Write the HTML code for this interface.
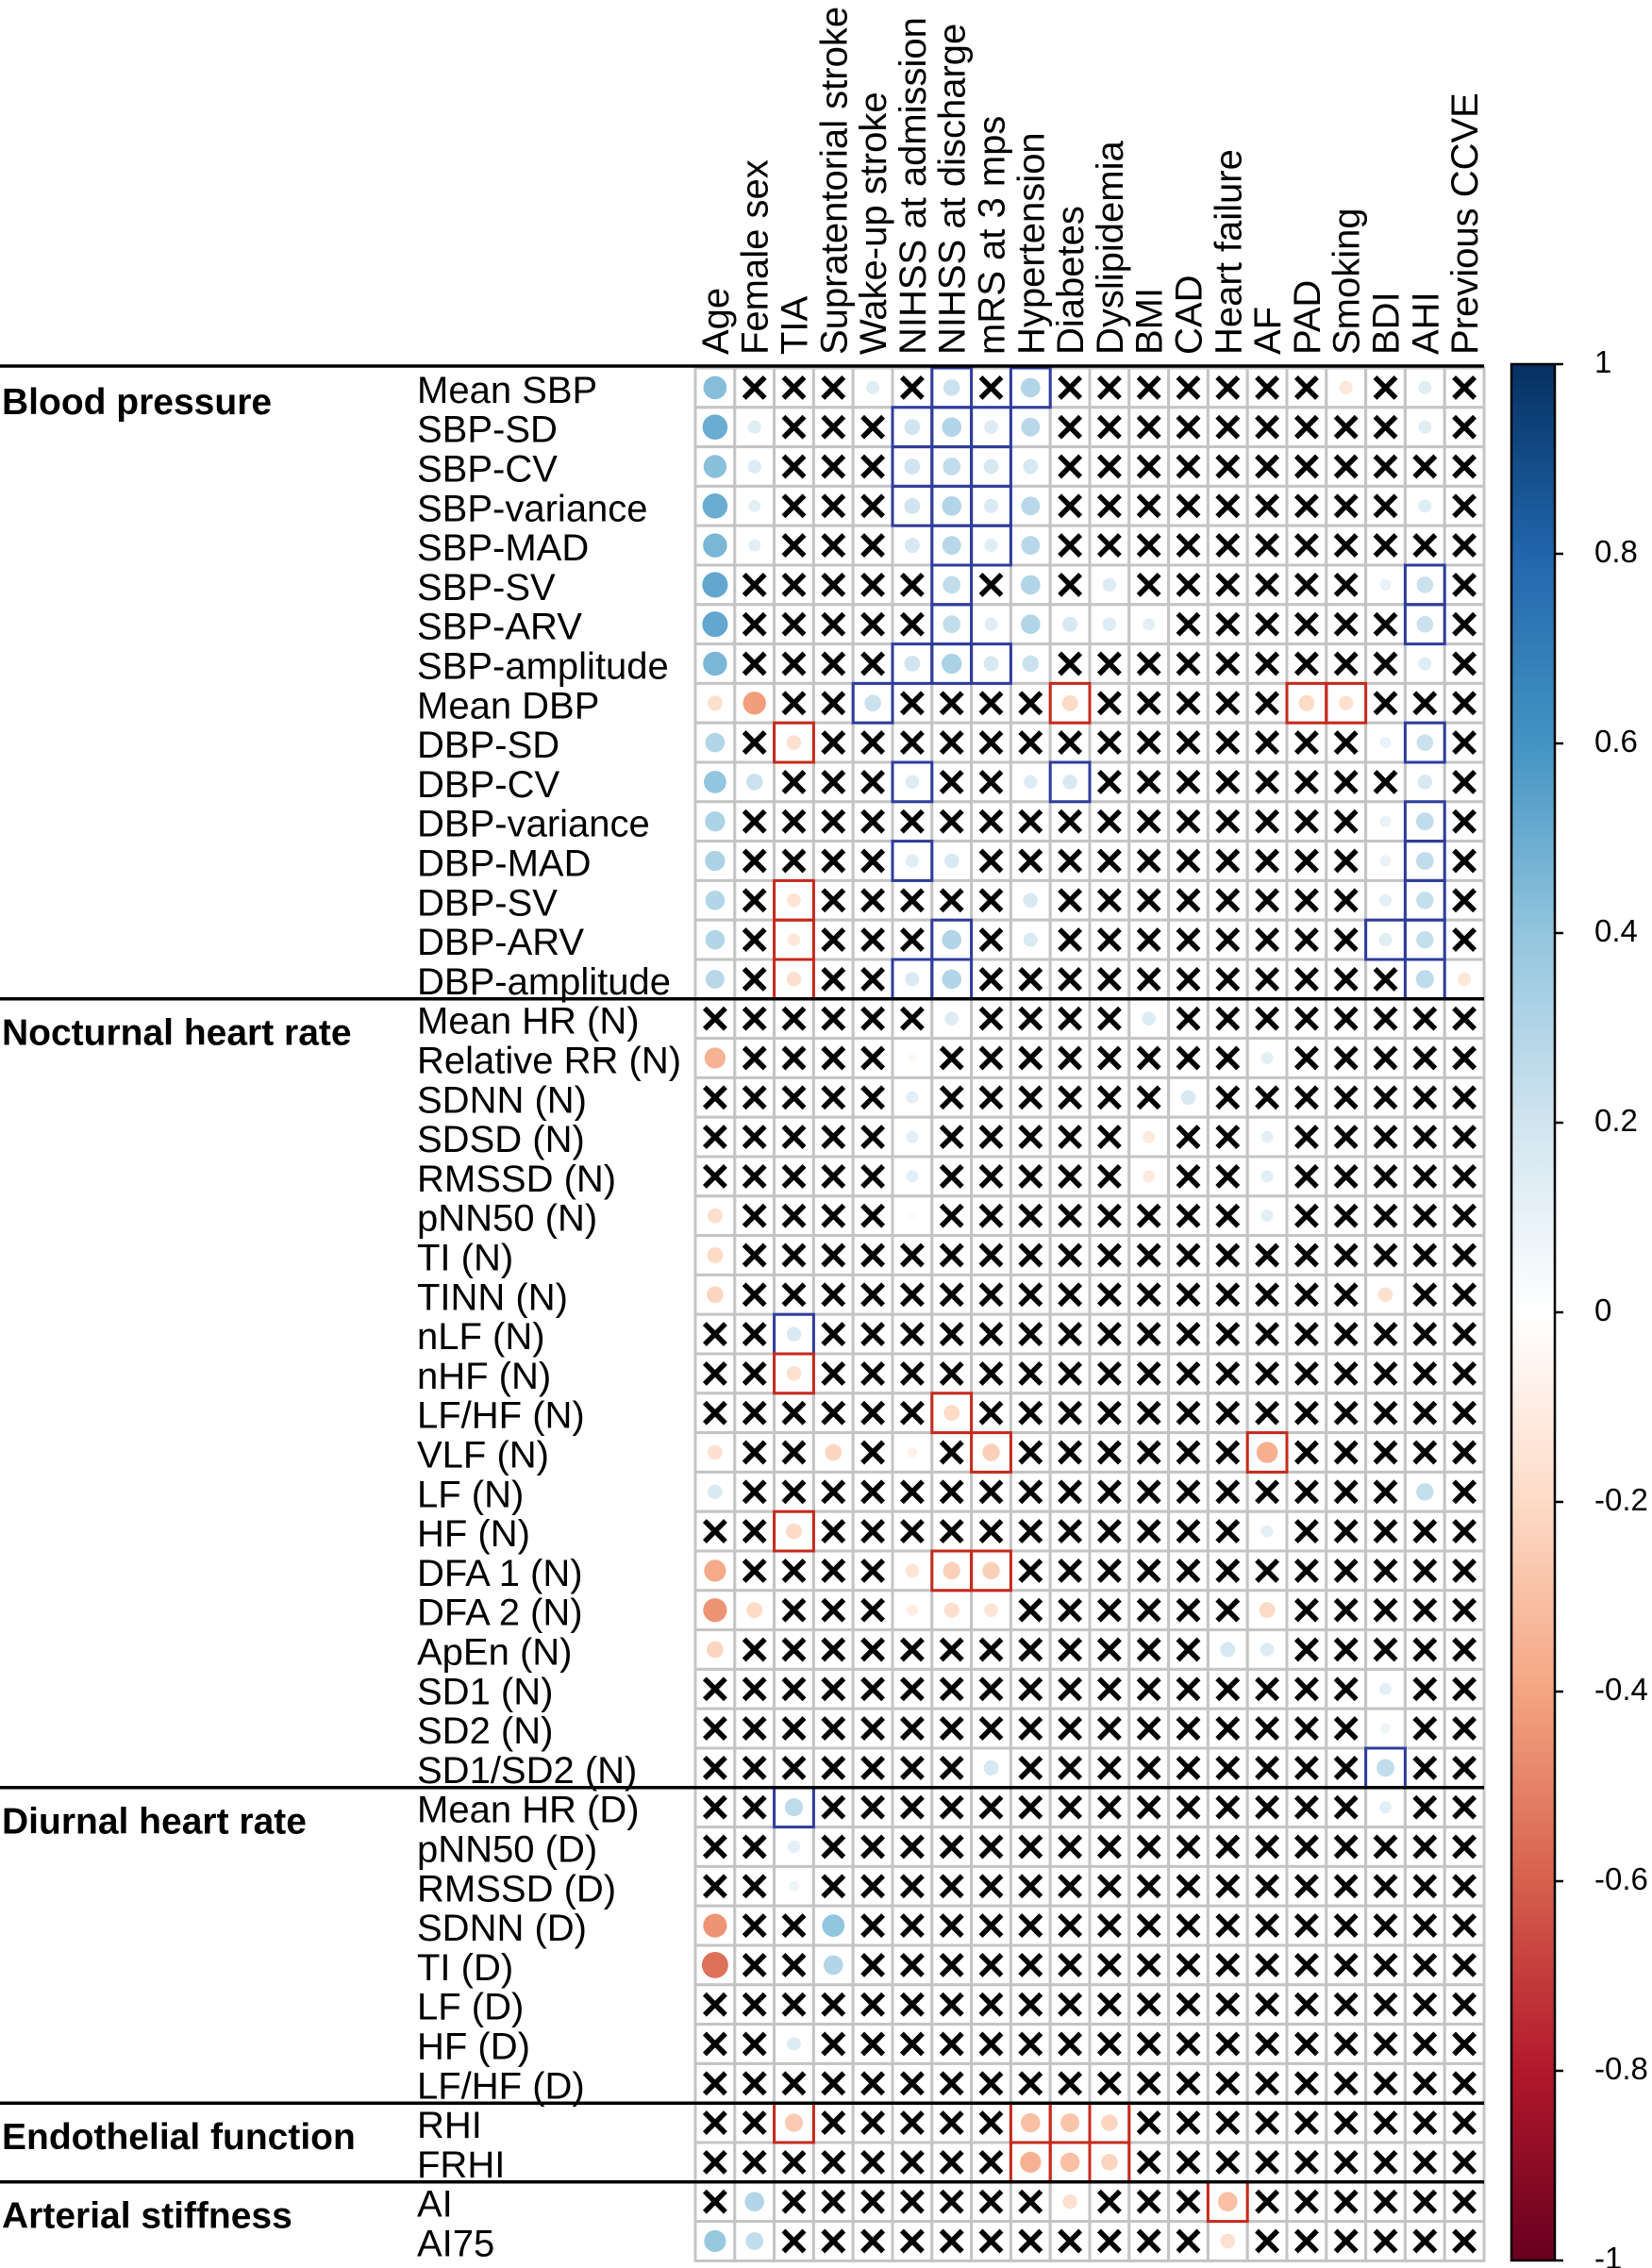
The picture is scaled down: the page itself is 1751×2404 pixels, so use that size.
<!DOCTYPE html>
<html><head><meta charset="utf-8"><title>Correlation matrix</title>
<style>
html,body{margin:0;padding:0;background:#fff;}
svg{display:block;font-family:"Liberation Sans",Arial,sans-serif;}
</style></head>
<body>
<svg id="chart" width="1751" height="2404" viewBox="0 0 1751 2404" xmlns="http://www.w3.org/2000/svg">
<defs>
<linearGradient id="cbgrad" x1="0" y1="0" x2="0" y2="1">
<stop offset="0" stop-color="#053061"/><stop offset="0.1" stop-color="#2166AC"/><stop offset="0.2" stop-color="#4393C3"/><stop offset="0.3" stop-color="#92C5DE"/><stop offset="0.4" stop-color="#D1E5F0"/><stop offset="0.5" stop-color="#FFFFFF"/><stop offset="0.6" stop-color="#FDDBC7"/><stop offset="0.7" stop-color="#F4A582"/><stop offset="0.8" stop-color="#D6604D"/><stop offset="0.9" stop-color="#B2182B"/><stop offset="1" stop-color="#67001F"/>
</linearGradient>
</defs>
<g id="grid"></g>
<g id="rowlabels"></g>
<g id="collabels"></g>
<g id="sections"></g>
<g id="colorbar">
<rect x="1602" y="386" width="46" height="2010" fill="url(#cbgrad)" stroke="#000" stroke-width="2.5"/>
</g>
</svg>
<script>
const colLabels = ["Age","Female sex","TIA","Supratentorial stroke","Wake-up stroke","NIHSS at admission","NIHSS at discharge","mRS at 3 mps","Hypertension","Diabetes","Dyslipidemia","BMI","CAD","Heart failure","AF","PAD","Smoking","BDI","AHI","Previous CCVE"];
const rowLabels = ["Mean SBP","SBP-SD","SBP-CV","SBP-variance","SBP-MAD","SBP-SV","SBP-ARV","SBP-amplitude","Mean DBP","DBP-SD","DBP-CV","DBP-variance","DBP-MAD","DBP-SV","DBP-ARV","DBP-amplitude",
"Mean HR (N)","Relative RR (N)","SDNN (N)","SDSD (N)","RMSSD (N)","pNN50 (N)","TI (N)","TINN (N)","nLF (N)","nHF (N)","LF/HF (N)","VLF (N)","LF (N)","HF (N)","DFA 1 (N)","DFA 2 (N)","ApEn (N)","SD1 (N)","SD2 (N)","SD1/SD2 (N)",
"Mean HR (D)","pNN50 (D)","RMSSD (D)","SDNN (D)","TI (D)","LF (D)","HF (D)","LF/HF (D)","RHI","FRHI","AI","AI75"];
const sectionNames = ["Blood pressure","Nocturnal heart rate","Diurnal heart rate","Endothelial function","Arterial stiffness"];
const sectionStarts = [0,16,36,44,46];
const colorbarTicks = [1,0.8,0.6,0.4,0.2,0,-0.2,-0.4,-0.6,-0.8,-1];
const x = null;
// correlation values (null = not significant, drawn as X)
const values = [
[0.43,x,x,x,0.14,x,0.22,x,0.3,x,x,x,x,x,x,x,-0.14,x,0.14,x],
[0.5,0.14,x,x,x,0.2,0.3,0.15,0.28,x,x,x,x,x,x,x,x,x,0.14,x],
[0.42,0.15,x,x,x,0.2,0.25,0.18,0.18,x,x,x,x,x,x,x,x,x,x,x],
[0.5,0.12,x,x,x,0.2,0.3,0.16,0.28,x,x,x,x,x,x,x,x,x,0.14,x],
[0.46,0.12,x,x,x,0.18,0.28,0.14,0.28,x,x,x,x,x,x,x,x,x,x,x],
[0.52,x,x,x,x,x,0.25,x,0.3,x,0.15,x,x,x,x,x,x,0.1,0.22,x],
[0.52,x,x,x,x,x,0.25,0.14,0.3,0.18,0.15,0.12,x,x,x,x,x,x,0.22,x],
[0.46,x,x,x,x,0.2,0.32,0.18,0.22,x,x,x,x,x,x,x,x,x,0.14,x],
[-0.18,-0.42,x,x,0.22,x,x,x,x,-0.2,x,x,x,x,x,-0.2,-0.17,x,x,x],
[0.3,x,-0.17,x,x,x,x,x,x,x,x,x,x,x,x,x,x,0.1,0.22,x],
[0.4,0.22,x,x,x,0.15,x,x,0.15,0.17,x,x,x,x,x,x,x,x,0.17,x],
[0.32,x,x,x,x,x,x,x,x,x,x,x,x,x,x,x,x,0.1,0.25,x],
[0.32,x,x,x,x,0.14,0.17,x,x,x,x,x,x,x,x,x,x,0.1,0.25,x],
[0.3,x,-0.15,x,x,x,x,x,0.17,x,x,x,x,x,x,x,x,0.12,0.24,x],
[0.3,x,-0.13,x,x,x,0.3,x,0.16,x,x,x,x,x,x,x,x,0.14,0.24,x],
[0.28,x,-0.17,x,x,0.16,0.3,x,x,x,x,x,x,x,x,x,x,x,0.26,-0.14],
[x,x,x,x,x,x,0.15,x,x,x,x,0.15,x,x,x,x,x,x,x,x],
[-0.35,x,x,x,x,-0.05,x,x,x,x,x,x,x,x,0.12,x,x,x,x,x],
[x,x,x,x,x,0.12,x,x,x,x,x,x,0.17,x,x,x,x,x,x,x],
[x,x,x,x,x,0.12,x,x,x,x,x,-0.12,x,x,0.12,x,x,x,x,x],
[x,x,x,x,x,0.12,x,x,x,x,x,-0.12,x,x,0.12,x,x,x,x,x],
[-0.18,x,x,x,x,-0.04,x,x,x,x,x,x,x,x,0.12,x,x,x,x,x],
[-0.2,x,x,x,x,x,x,x,x,x,x,x,x,x,x,x,x,x,x,x],
[-0.22,x,x,x,x,x,x,x,x,x,x,x,x,x,x,x,x,-0.17,x,x],
[x,x,0.17,x,x,x,x,x,x,x,x,x,x,x,x,x,x,x,x,x],
[x,x,-0.17,x,x,x,x,x,x,x,x,x,x,x,x,x,x,x,x,x],
[x,x,x,x,x,x,-0.2,x,x,x,x,x,x,x,x,x,x,x,x,x],
[-0.17,x,x,-0.22,x,-0.08,x,-0.24,x,x,x,x,x,x,-0.36,x,x,x,x,x],
[0.17,x,x,x,x,x,x,x,x,x,x,x,x,x,x,x,x,x,0.24,x],
[x,x,-0.2,x,x,x,x,x,x,x,x,x,x,x,0.12,x,x,x,x,x],
[-0.38,x,x,x,x,-0.15,-0.24,-0.24,x,x,x,x,x,x,x,x,x,x,x,x],
[-0.45,-0.2,x,x,x,-0.1,-0.18,-0.15,x,x,x,x,x,x,-0.2,x,x,x,x,x],
[-0.22,x,x,x,x,x,x,x,x,x,x,x,x,0.18,0.15,x,x,x,x,x],
[x,x,x,x,x,x,x,x,x,x,x,x,x,x,x,x,x,0.12,x,x],
[x,x,x,x,x,x,x,x,x,x,x,x,x,x,x,x,x,0.08,x,x],
[x,x,x,x,x,x,x,0.18,x,x,x,x,x,x,x,x,x,0.25,x,x],
[x,x,0.26,x,x,x,x,x,x,x,x,x,x,x,x,x,x,0.12,x,x],
[x,x,0.12,x,x,x,x,x,x,x,x,x,x,x,x,x,x,x,x,x],
[x,x,0.08,x,x,x,x,x,x,x,x,x,x,x,x,x,x,x,x,x],
[-0.45,x,x,0.4,x,x,x,x,x,x,x,x,x,x,x,x,x,x,x,x],
[-0.55,x,x,0.3,x,x,x,x,x,x,x,x,x,x,x,x,x,x,x,x],
[x,x,x,x,x,x,x,x,x,x,x,x,x,x,x,x,x,x,x,x],
[x,x,0.15,x,x,x,x,x,x,x,x,x,x,x,x,x,x,x,x,x],
[x,x,x,x,x,x,x,x,x,x,x,x,x,x,x,x,x,x,x,x],
[x,x,-0.26,x,x,x,x,x,-0.3,-0.28,-0.22,x,x,x,x,x,x,x,x,x],
[x,x,x,x,x,x,x,x,-0.35,-0.3,-0.22,x,x,x,x,x,x,x,x,x],
[x,0.3,x,x,x,x,x,x,x,-0.17,x,x,x,-0.3,x,x,x,x,x,x],
[0.38,0.25,x,x,x,x,x,x,x,x,x,x,x,-0.17,x,x,x,x,x,x]
];
// highlighted cells: b = blue frame, r = red frame
const boxes = [
"......b.b...........",".....bbb............",".....bbb............",".....bbb............","......bb............","......b...........b.","......b...........b.",".....bbb............",
"....b....r.....rr...","..r...............b.",".....b...b..........","..................b.",".....b............b.","..r...............b.","..r...b..........bb.","..r..bb...........b.",
"....................","....................","....................","....................","....................","....................","....................","....................",
"..b.................","..r.................","......r.............",".......r......r.....","....................","..r.................","......rr............","....................",
"....................","....................","....................",".................b..","..b.................","....................","....................","....................",
"....................","....................","....................","....................","..r.....rrr.........","........rrr.........",".............r......","...................."
];

const NS="http://www.w3.org/2000/svg";
const gx0=737, gy0=390, cw=41.8, ch=41.8;
const gridRight = gx0 + colLabels.length*cw;
const xPos = c => gx0 + (c+0.5)*cw;
const yPos = r => gy0 + (r+0.5)*ch;
const cbTop=386, cbBot=2396;
const cbY = v => cbTop + (1-v)/2*(cbBot-cbTop);
const stops=[[1,[5,48,97]],[0.8,[33,102,172]],[0.6,[67,147,195]],[0.4,[146,197,222]],[0.2,[209,229,240]],[0,[255,255,255]],[-0.2,[253,219,199]],[-0.4,[244,165,130]],[-0.6,[214,96,77]],[-0.8,[178,24,43]],[-1,[103,0,31]]];
function colorOf(v){
  for(let i=0;i<stops.length-1;i++){
    const a=stops[i],b=stops[i+1];
    if(v<=a[0]&&v>=b[0]){const t=(a[0]-v)/(a[0]-b[0]);
      const c=a[1].map((q,k)=>Math.round(q+(b[1][k]-q)*t));return `rgb(${c[0]},${c[1]},${c[2]})`;}
  }
  return "#fff";
}
function mk(tag,attrs,parent){const e=document.createElementNS(NS,tag);for(const k in attrs)e.setAttribute(k,attrs[k]);parent.appendChild(e);return e;}

const grid=document.getElementById('grid');
for(let r=0;r<rowLabels.length;r++){
  for(let c=0;c<colLabels.length;c++){
    const cell=mk('rect',{x:gx0+c*cw,y:gy0+r*ch,width:cw,height:ch,fill:'#fff',stroke:'#c4c4c4','stroke-width':3},grid);
    
    
  }
}
for(let r=0;r<rowLabels.length;r++){
  for(let c=0;c<colLabels.length;c++){
    const v=values[r][c];
    const cx=xPos(c), cy=yPos(r);
    if(v===null){
      const g=mk('g',{},grid);
      
      
      const s=11;
      mk('line',{x1:cx-s,y1:cy-s,x2:cx+s,y2:cy+s,stroke:'#000','stroke-width':5.5},g);
      mk('line',{x1:cx+s,y1:cy-s,x2:cx-s,y2:cy+s,stroke:'#000','stroke-width':5.5},g);
    } else {
      const rad=0.45*cw*Math.sqrt(Math.abs(v));
      const circ=mk('circle',{cx:cx,cy:cy,r:rad,fill:colorOf(v)},grid);
      
      
    }
  }
}
for(let r=0;r<boxes.length;r++){
  for(let c=0;c<colLabels.length;c++){
    const ch2=boxes[r][c];
    if(ch2==='b'||ch2==='r'){
      const bx=mk('rect',{x:gx0+c*cw,y:gy0+r*ch,width:cw,height:ch,fill:'none',stroke:ch2==='b'?'#2f3d9c':'#c62a1e','stroke-width':3},grid);
      
      
    }
  }
}
const hdr=mk('line',{x1:0,y1:gy0-2,x2:gridRight,y2:gy0-2,stroke:'#000','stroke-width':3.5},grid);


for(let i=1;i<sectionStarts.length;i++){
  const yy=gy0+sectionStarts[i]*ch;
  const ln=mk('line',{x1:0,y1:yy,x2:gridRight,y2:yy,stroke:'#000','stroke-width':3.5},grid);
  
  
}
const rl=document.getElementById('rowlabels');
rowLabels.forEach((t,r)=>{
  const e=mk('text',{x:442,y:yPos(r)+16,'font-size':40,fill:'#000'},rl);
  e.textContent=t;
  
  
});
const cl=document.getElementById('collabels');
colLabels.forEach((t,c)=>{
  const cx=xPos(c)+14, cy=376;
  const e=mk('text',{x:cx,y:cy,'font-size':40,fill:'#000',transform:`rotate(-90 ${cx} ${cy})`},cl);
  e.textContent=t;
  
  
});
const sl=document.getElementById('sections');
sectionNames.forEach((t,i)=>{
  const e=mk('text',{x:2,y:yPos(sectionStarts[i])+28,'font-size':39,'font-weight':'bold',fill:'#000'},sl);
  e.textContent=t;
  
  
});
const cb=document.getElementById('colorbar');
colorbarTicks.forEach(v=>{
  const yy=cbY(v);
  const tk=mk('line',{x1:1648,y1:yy,x2:1657,y2:yy,stroke:'#000','stroke-width':2.5},cb);
  
  
  const lb=mk('text',{x:1690,y:yy+9,'font-size':33,fill:'#000'},cb);
  lb.textContent=String(v);
  
  
});
</script>
</body></html>
